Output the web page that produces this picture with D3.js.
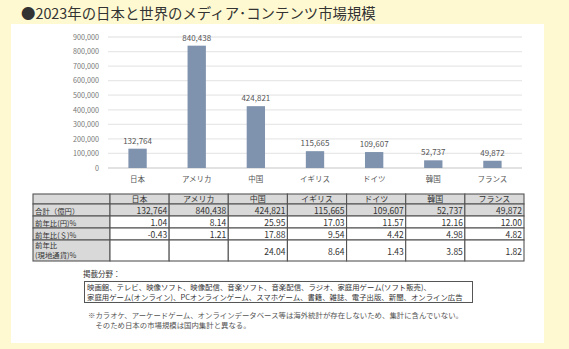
<!DOCTYPE html>
<html><head><meta charset="utf-8">
<script src="https://cdn.jsdelivr.net/npm/d3@7"></script>
<style>
html,body{margin:0;padding:0;background:#fff9d1;}
svg{display:block;font-family:"Noto Sans CJK JP","Noto Sans",sans-serif;}
</style></head>
<body><svg id="c" width="569" height="349"></svg>
<script>
const countries = ["日本","アメリカ","中国","イギリス","ドイツ","韓国","フランス"];
const totals = [132764, 840438, 424821, 115665, 109607, 52737, 49872];
const yoyYen = ["1.04","8.14","25.95","17.03","11.57","12.16","12.00"];
const yoyUsd = ["-0.43","1.21","17.88","9.54","4.42","4.98","4.82"];
const yoyLocal = ["","","24.04","8.64","1.43","3.85","1.82"];
const yTicks = [0,100000,200000,300000,400000,500000,600000,700000,800000,900000];
const rowLabels = [["合計（億円）"],["前年比(円)%"],["前年比(＄)%"],["前年比","(現地通貨)%"]];
const titleText = "●2023年の日本と世界のメディア･コンテンツ市場規模";
const fieldsLabel = "掲載分野：";
const fieldsLines = ["映画館、テレビ、映像ソフト、映像配信、音楽ソフト、音楽配信、ラジオ、家庭用ゲーム(ソフト販売)、",
  "家庭用ゲーム(オンライン)、PCオンラインゲーム、スマホゲーム、書籍、雑誌、電子出版、新聞、オンライン広告"];
const noteLines = ["※カラオケ、アーケードゲーム、オンラインデータベース等は海外統計が存在しないため、集計に含んでいない。",
  "　そのため日本の市場規模は国内集計と異なる。"];

const svg = d3.select("#c");
const fmt = d3.format(",");

svg.append("rect").attr("x",0).attr("y",0).attr("width",569).attr("height",349).attr("fill","#fff9d1");
svg.append("rect").attr("x",11).attr("y",24).attr("width",533).attr("height",319).attr("fill","#fff");

svg.append("text").attr("x",21).attr("y",19).attr("font-size",14.4).attr("fill","#333").text(titleText);

const x = d3.scaleBand().domain(countries).range([108,522]).paddingInner(0.69).paddingOuter(0.345);
const y = d3.scaleLinear().domain([0,900000]).range([168,37]);

const g = svg.append("g");
g.selectAll("line.grid").data(yTicks).join("line")
  .attr("x1",108).attr("x2",522).attr("y1",d=>y(d)).attr("y2",d=>y(d))
  .attr("stroke",d=>d===0?"#d9d9d9":"#e8e8e8").attr("stroke-width",1.3);

const yAxis = g.append("g").attr("transform","translate(102,0)")
  .call(d3.axisLeft(y).tickValues(yTicks).tickSize(0).tickFormat(fmt));
yAxis.select(".domain").remove();
yAxis.selectAll("text").attr("font-size",7.2).attr("fill","#777").attr("font-family","'Noto Sans CJK JP',sans-serif");

g.selectAll("rect.bar").data(totals).join("rect")
  .attr("x",(d,i)=>x(countries[i])).attr("width",x.bandwidth())
  .attr("y",d=>y(d)).attr("height",d=>y(0)-y(d)).attr("fill","#7f93ae");

g.selectAll("text.val").data(totals).join("text")
  .attr("x",(d,i)=>x(countries[i])+x.bandwidth()/2).attr("y",d=>y(d)-5)
  .attr("text-anchor","middle").attr("font-size",8).attr("fill","#555").text(d=>fmt(d));

const xAxis = g.append("g").attr("transform","translate(0,168)")
  .call(d3.axisBottom(x).tickSize(0).tickPadding(9));
xAxis.select(".domain").remove();
xAxis.selectAll("text").attr("font-size",7.5).attr("fill","#555").attr("font-family","'Noto Sans CJK JP',sans-serif");

// table
const tx0 = 33, tx1 = 110, colW = x.step();
const rowsY = [194,204,216,228,240,261];
const t = svg.append("g");
const rowsData = [countries.map(String), totals.map(fmt), yoyYen, yoyUsd, yoyLocal];
for (let r=0;r<5;r++){
  const yy = rowsY[r], hh = rowsY[r+1]-rowsY[r];
  const grayRow = r<=1;
  t.append("rect").attr("x",tx0).attr("y",yy).attr("width",tx1-tx0).attr("height",hh)
    .attr("fill","#d9d9d9").attr("stroke","#555").attr("stroke-width",1.1);
  for (let c=0;c<7;c++){
    const cx = tx1 + c*colW;
    t.append("rect").attr("x",cx).attr("y",yy).attr("width",colW).attr("height",hh)
      .attr("fill",grayRow?"#d9d9d9":"#fff").attr("stroke","#555").attr("stroke-width",1.1);
    const txt = rowsData[r][c];
    if (r===0){
      t.append("text").attr("x",cx+colW/2).attr("y",yy+hh-2).attr("text-anchor","middle")
        .attr("font-size",8).attr("fill","#333").text(txt);
    } else {
      t.append("text").attr("x",cx+colW-2).attr("y",r===4 ? yy+15 : yy+hh-2.5).attr("text-anchor","end")
        .attr("font-size",8.5).attr("fill","#333").text(txt);
    }
  }
  if (r>0){
    const lines = rowLabels[r-1];
    lines.forEach((l,k)=>{
      t.append("text").attr("x",tx0+2).attr("y", lines.length===1 ? yy+hh-2.5 : yy+8+k*9.5)
        .attr("font-size",7.4).attr("fill","#333").text(l);
    });
  }
}

svg.append("text").attr("x",83).attr("y",277).attr("font-size",7.5).attr("fill","#333").text(fieldsLabel);
svg.append("rect").attr("x",84.5).attr("y",281.5).attr("width",388).attr("height",21)
  .attr("fill","#fff").attr("stroke","#555").attr("stroke-width",1);
fieldsLines.forEach((l,k)=>svg.append("text").attr("x",87).attr("y",290+k*9.5)
  .attr("font-size",7.4).attr("fill","#333").text(l));
noteLines.forEach((l,k)=>svg.append("text").attr("x",88).attr("y",318+k*10)
  .attr("font-size",7.4).attr("fill","#555").text(l));
</script></body></html>
